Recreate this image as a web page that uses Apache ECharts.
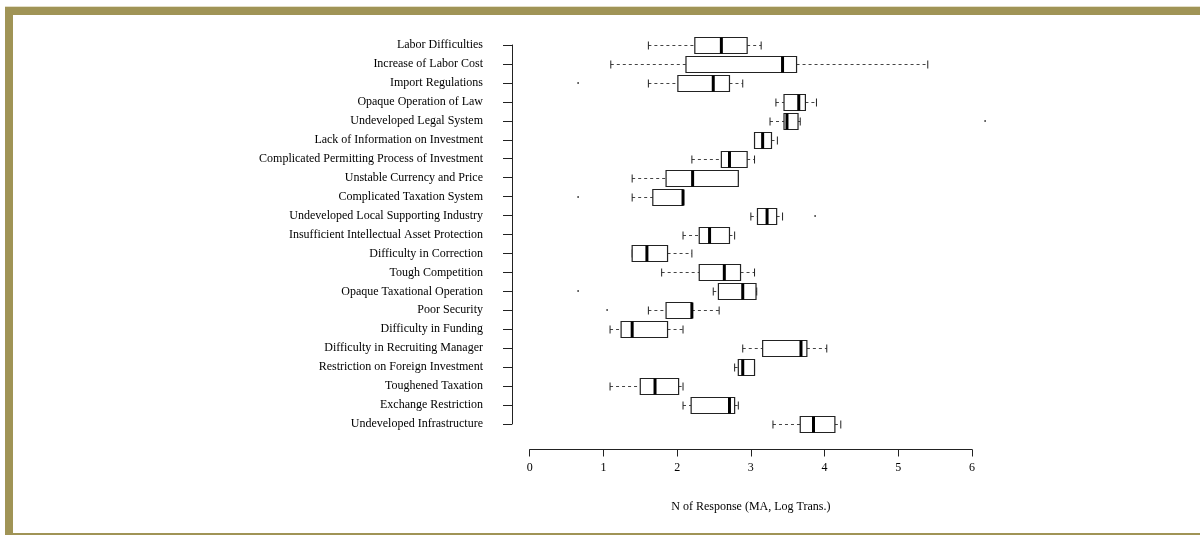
<!DOCTYPE html>
<html>
<head>
<meta charset="utf-8">
<title>Obstacles to investment — box plots</title>
<script src="https://cdn.jsdelivr.net/npm/echarts@6/dist/echarts.min.js"></script>
<style>
  html, body { margin: 0; padding: 0; background: #fff; }
  #chart { width: 1200px; height: 535px; }
</style>
</head>
<body>
<div id="chart"></div>
<script>
// Obstacle categories, listed top to bottom
const categories = [
  'Labor Difficulties',
  'Increase of Labor Cost',
  'Import Regulations',
  'Opaque Operation of Law',
  'Undeveloped Legal System',
  'Lack of Information on Investment',
  'Complicated Permitting Process of Investment',
  'Unstable Currency and Price',
  'Complicated Taxation System',
  'Undeveloped Local Supporting Industry',
  'Insufficient Intellectual Asset Protection',
  'Difficulty in Correction',
  'Tough Competition',
  'Opaque Taxational Operation',
  'Poor Security',
  'Difficulty in Funding',
  'Difficulty in Recruiting Manager',
  'Restriction on Foreign Investment',
  'Toughened Taxation',
  'Exchange Restriction',
  'Undeveloped Infrastructure'
];

// Five-number summaries, one entry per category
const whiskerLow  = [1.61, 1.10, 1.61, 3.34, 3.26, 3.05, 2.20, 1.39, 1.39, 3.00, 2.08, 1.39, 1.79, 2.49, 1.61, 1.09, 2.89, 2.78, 1.09, 2.08, 3.30];
const lowerHinge  = [2.24, 2.12, 2.01, 3.45, 3.45, 3.05, 2.60, 1.85, 1.67, 3.09, 2.30, 1.39, 2.30, 2.56, 1.85, 1.24, 3.16, 2.83, 1.50, 2.19, 3.67];
const medians     = [2.60, 3.43, 2.49, 3.65, 3.49, 3.16, 2.71, 2.21, 2.08, 3.22, 2.44, 1.59, 2.64, 2.89, 2.20, 1.39, 3.68, 2.89, 1.70, 2.71, 3.85];
const upperHinge  = [2.95, 3.62, 2.71, 3.74, 3.64, 3.28, 2.95, 2.83, 2.08, 3.35, 2.71, 1.87, 2.86, 3.07, 2.20, 1.87, 3.76, 3.05, 2.02, 2.78, 4.14];
const whiskerHigh = [3.14, 5.40, 2.89, 3.89, 3.67, 3.36, 3.05, 2.83, 2.08, 3.43, 2.78, 2.20, 3.05, 3.08, 2.57, 2.08, 4.03, 3.05, 2.08, 2.83, 4.22];

// Outlying observations: [category index, value]
const outlierCategory = [2, 4, 8, 9, 13, 14];
const outlierValue    = [0.65, 6.17, 0.65, 3.87, 0.65, 1.05];

// X axis tick values
const xTicks = [0, 1, 2, 3, 4, 5, 6];

const boxData = categories.map((c, i) => [i, whiskerLow[i], lowerHinge[i], medians[i], upperHinge[i], whiskerHigh[i]]);
const outlierData = outlierCategory.map((c, i) => [c, outlierValue[i]]);

const FONT = '"Liberation Serif", "DejaVu Serif", serif';
const FRAME = '#a09456';

function renderBox(params, api) {
  const idx = api.value(0);
  const lo = api.coord([api.value(1), idx]);
  const q1 = api.coord([api.value(2), idx]);
  const md = api.coord([api.value(3), idx]);
  const q3 = api.coord([api.value(4), idx]);
  const hi = api.coord([api.value(5), idx]);
  const band = api.size([0, 1])[1];
  const h = Math.round(band * 0.82);
  const cy = Math.round(q1[1]) + 0.5;
  const top = cy - h / 2;
  const bot = cy + h / 2;
  const cap = h / 4;
  const whiskerStyle = { stroke: '#444', lineWidth: 1, lineDash: [3, 3] };
  const solid = { stroke: '#222', lineWidth: 1 };
  const children = [];
  if (q1[0] - lo[0] > 0.5) {
    children.push({ type: 'line', shape: { x1: lo[0], y1: cy, x2: q1[0], y2: cy }, style: whiskerStyle });
  }
  if (hi[0] - q3[0] > 0.5) {
    children.push({ type: 'line', shape: { x1: q3[0], y1: cy, x2: hi[0], y2: cy }, style: whiskerStyle });
  }
  children.push({ type: 'line', shape: { x1: lo[0], y1: cy - cap, x2: lo[0], y2: cy + cap }, style: solid });
  children.push({ type: 'line', shape: { x1: hi[0], y1: cy - cap, x2: hi[0], y2: cy + cap }, style: solid });
  children.push({
    type: 'rect',
    shape: { x: q1[0], y: top, width: q3[0] - q1[0], height: h },
    style: { fill: '#fff', stroke: '#222', lineWidth: 1.2 }
  });
  children.push({ type: 'line', shape: { x1: md[0], y1: top, x2: md[0], y2: bot }, style: { stroke: '#000', lineWidth: 3 } });
  return { type: 'group', children: children };
}

function renderOutlier(params, api) {
  const p = api.coord([api.value(1), api.value(0)]);
  return {
    type: 'rect',
    shape: { x: Math.round(p[0]) - 0.5, y: Math.round(p[1]) - 1, width: 1.2, height: 2 },
    style: { fill: '#222' }
  };
}

const chart = echarts.init(document.getElementById('chart'), null, { renderer: 'canvas' });

chart.setOption({
  animation: false,
  backgroundColor: '#fff',
  textStyle: { fontFamily: FONT },
  graphic: [
    { type: 'rect', shape: { x: 5, y: 6, width: 1195, height: 1 }, style: { fill: '#e4dfc8' } },
    { type: 'rect', shape: { x: 5, y: 7, width: 1195, height: 8 }, style: { fill: FRAME } },
    { type: 'rect', shape: { x: 5, y: 7, width: 8, height: 528 }, style: { fill: FRAME } },
    { type: 'rect', shape: { x: 5, y: 533, width: 1195, height: 2 }, style: { fill: FRAME } }
  ],
  grid: { left: 529.7, right: 228, top: 45, bottom: 111, containLabel: false },
  xAxis: {
    type: 'value',
    min: xTicks[0],
    max: xTicks[xTicks.length - 1],
    interval: 1,
    offset: 25.5,
    splitLine: { show: false },
    axisLine: { show: true, onZero: false, lineStyle: { color: '#222', width: 1 } },
    axisTick: { show: true, length: 7, lineStyle: { color: '#222' } },
    axisLabel: { color: '#000', fontSize: 12, fontFamily: FONT, margin: 12 },
    name: 'N of Response (MA, Log Trans.)',
    nameLocation: 'middle',
    nameGap: 51,
    nameTextStyle: { color: '#000', fontSize: 12, fontFamily: FONT }
  },
  yAxis: {
    type: 'category',
    data: categories,
    inverse: true,
    boundaryGap: false,
    offset: 17.7,
    axisLine: { show: true, onZero: false, lineStyle: { color: '#222', width: 1 } },
    axisTick: { show: true, length: 9, lineStyle: { color: '#222' } },
    axisLabel: { color: '#000', fontSize: 12, fontFamily: FONT, margin: 29, interval: 0 },
    splitLine: { show: false }
  },
  series: [
    {
      type: 'custom',
      name: 'box',
      renderItem: renderBox,
      data: boxData,
      encode: { x: [1, 2, 3, 4, 5], y: 0 },
      clip: false,
      z: 3
    },
    {
      type: 'custom',
      name: 'outliers',
      renderItem: renderOutlier,
      data: outlierData,
      encode: { x: 1, y: 0 },
      clip: false,
      z: 3
    }
  ]
});
</script>
</body>
</html>
